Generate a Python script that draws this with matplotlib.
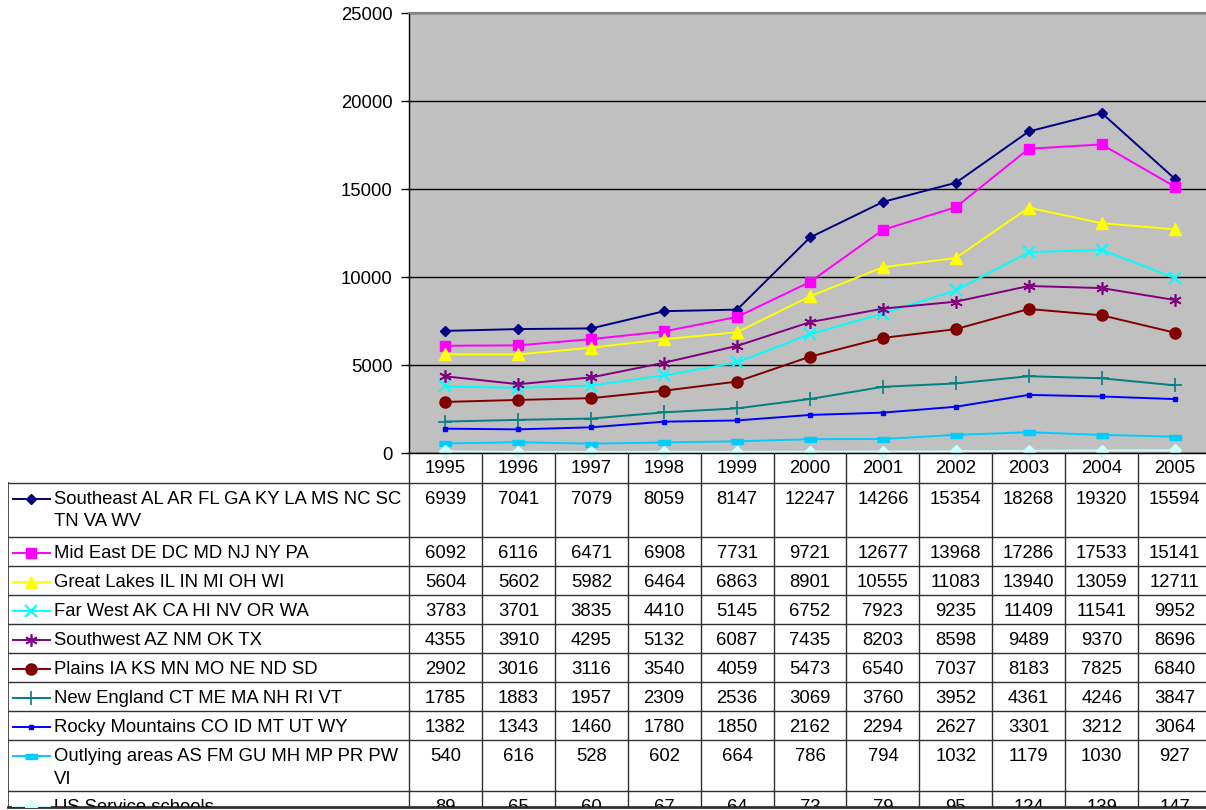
import matplotlib.pyplot as plt

plt.rcParams['font.family'] = ['Liberation Sans', 'DejaVu Sans']

years = ['1995', '1996', '1997', '1998', '1999', '2000', '2001', '2002', '2003', '2004', '2005']

regions = [
    'Southeast AL AR FL GA KY LA MS NC SC\nTN VA WV',
    'Mid East DE DC MD NJ NY PA',
    'Great Lakes IL IN MI OH WI',
    'Far West AK CA HI NV OR WA',
    'Southwest AZ NM OK TX',
    'Plains IA KS MN MO NE ND SD',
    'New England CT ME MA NH RI VT',
    'Rocky Mountains CO ID MT UT WY',
    'Outlying areas AS FM GU MH MP PR PW\nVI',
    'US Service schools',
]

southeast = [6939, 7041, 7079, 8059, 8147, 12247, 14266, 15354, 18268, 19320, 15594]
mid_east = [6092, 6116, 6471, 6908, 7731, 9721, 12677, 13968, 17286, 17533, 15141]
great_lakes = [5604, 5602, 5982, 6464, 6863, 8901, 10555, 11083, 13940, 13059, 12711]
far_west = [3783, 3701, 3835, 4410, 5145, 6752, 7923, 9235, 11409, 11541, 9952]
southwest = [4355, 3910, 4295, 5132, 6087, 7435, 8203, 8598, 9489, 9370, 8696]
plains = [2902, 3016, 3116, 3540, 4059, 5473, 6540, 7037, 8183, 7825, 6840]
new_england = [1785, 1883, 1957, 2309, 2536, 3069, 3760, 3952, 4361, 4246, 3847]
rocky = [1382, 1343, 1460, 1780, 1850, 2162, 2294, 2627, 3301, 3212, 3064]
outlying = [540, 616, 528, 602, 664, 786, 794, 1032, 1179, 1030, 927]
us_service = [89, 65, 60, 67, 64, 73, 79, 95, 124, 139, 147]

series = [southeast, mid_east, great_lakes, far_west, southwest,
          plains, new_england, rocky, outlying, us_service]

rect = [(-1, -0.45), (1, -0.45), (1, 0.45), (-1, 0.45)]
colors = ['#000080', '#FF00FF', '#FFFF00', '#00FFFF', '#800080',
          '#800000', '#008080', '#0000FF', '#00CCFF', '#CCFFFF']
markers = [
    dict(marker='D', ms=5),
    dict(marker='s', ms=7),
    dict(marker='^', ms=8),
    dict(marker='x', ms=8, mew=1.5),
    dict(marker=(6, 2, 0), ms=9, mew=1.2),
    dict(marker='o', ms=8),
    dict(marker='+', ms=10, mew=1.2),
    dict(marker='s', ms=3.5),
    dict(marker=rect, ms=8),
    dict(marker='D', ms=6),
]

FS = 13.3

W, H = 1206, 810
fig = plt.figure(figsize=(W / 100, H / 100), dpi=100)


def px_axes(x0, y0, x1, y1):
    return fig.add_axes([x0 / W, 1 - y1 / H, (x1 - x0) / W, (y1 - y0) / H])


# chart area
col_w = (1211 - 409) / 11
ax = px_axes(409, 13, 1211, 453)
ax.set_facecolor('#C0C0C0')
x = list(range(len(years)))
for vals, c, mk in zip(series, colors, markers):
    ax.plot(x, vals, lw=1.4, color=c, mec=c, mfc=c, **mk, clip_on=False, zorder=3)
ax.set_xlim(-0.5, 10.5)
ax.set_ylim(0, 25000)
ax.set_yticks(range(0, 25001, 5000))
ax.set_xticks([])
ax.tick_params(axis='y', length=6, width=1, labelsize=FS, pad=6)
ax.grid(axis='y', color='black', lw=1)
ax.set_axisbelow(True)
for s in ['right', 'bottom']:
    ax.spines[s].set_visible(False)
ax.spines['top'].set_color('#808080')
ax.spines['top'].set_linewidth(1.5)
ax.spines['left'].set_linewidth(1)

# data table
x_left = -0.5 - (409 - 8) / col_w
tab = px_axes(8, 453, 1211, 807)
tab.set_xlim(x_left, 10.5)
tab.set_ylim(807, 453)
tab.axis('off')

row_edges = [483, 537, 566, 595, 624, 653, 682, 711, 740, 791, 842]
lc = '#303030'
tab.plot([-0.5, 10.5], [453, 453], color='black', lw=1, clip_on=False)
for yb in row_edges:
    tab.plot([x_left, 10.5], [yb, yb], color=lc, lw=1)
tab.plot([x_left, 10.5], [807, 807], color=lc, lw=2, clip_on=False)
tab.plot([x_left, x_left], [483, 807], color=lc, lw=1.2)
for k in range(12):
    tab.plot([k - 0.5, k - 0.5], [453, 807], color=lc, lw=1)

for i, yr in enumerate(years):
    tab.text(i, 469, yr, ha='center', va='center', fontsize=FS)


def to_x(p):
    return x_left + (p - 8) / col_w


for r, (name, vals, c, mk) in enumerate(zip(regions, series, colors, markers)):
    top = row_edges[r]
    yc = top + 16
    tab.plot([to_x(13), to_x(50)], [yc, yc], lw=1.4, color=c)
    tab.plot([to_x(31)], [yc], ls='none', mec=c, mfc=c, **mk)
    for j, line in enumerate(name.split('\n')):
        tab.text(to_x(54), yc + 1 + j * 22, line, ha='left', va='center', fontsize=FS, clip_on=True)
    for i, v in enumerate(vals):
        tab.text(i, yc + 1, str(v), ha='center', va='center', fontsize=FS, clip_on=True)

plt.savefig('out.png', dpi=100)
